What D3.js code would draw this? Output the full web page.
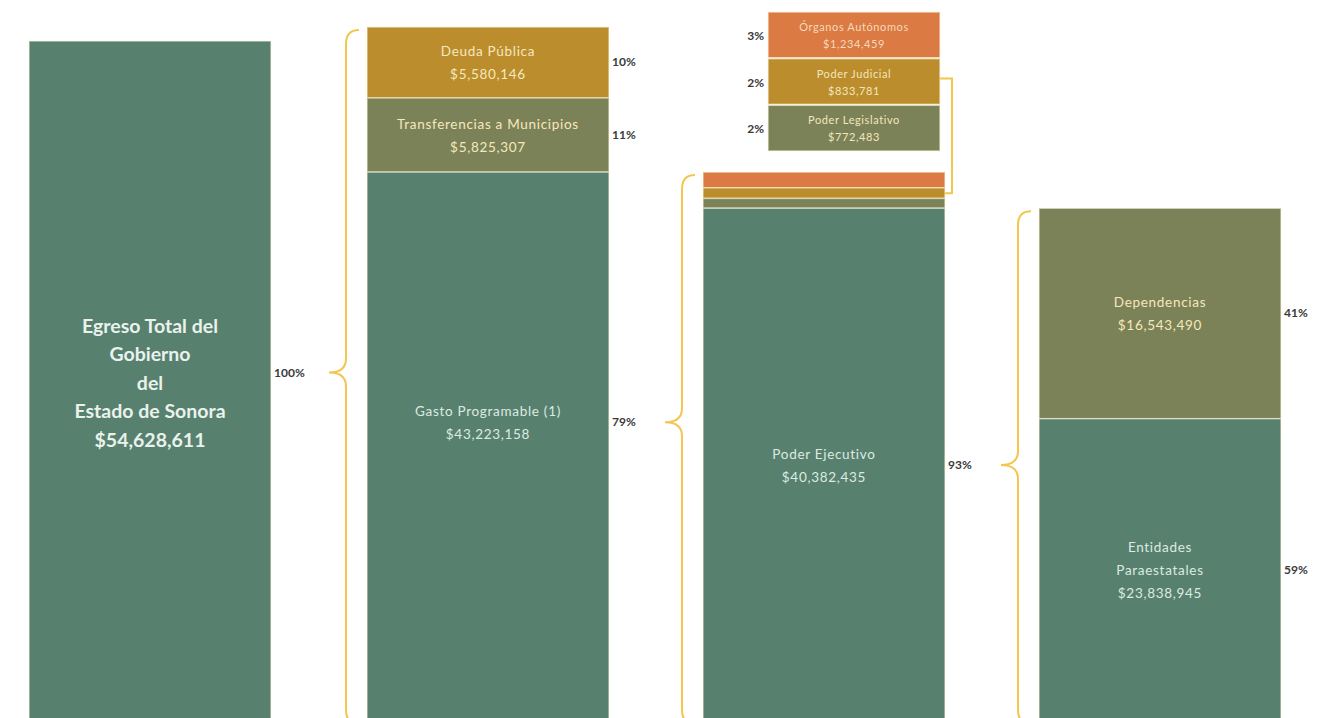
<!DOCTYPE html>
<html>
<head>
<meta charset="utf-8">
<script src="https://cdn.jsdelivr.net/npm/d3@7"></script>
<style>
  body { margin: 0; background: #fff; }
  svg { display: block; font-family: Lato, "Open Sans", sans-serif; }
</style>
</head>
<body>
<script>
// data (pesos)
const totalLabel = ["Egreso Total del", "Gobierno", "del", "Estado de Sonora", "$54,628,611"]
const totalValue = 54628611

const egresoNames = [["Deuda Pública"], ["Transferencias a Municipios"], ["Gasto Programable (1)"]]
const egresoValues = [5580146, 5825307, 43223158]
const egresoPct = ["10%", "11%", "79%"]

const gastoNames = [["Órganos Autónomos"], ["Poder Judicial"], ["Poder Legislativo"], ["Poder Ejecutivo"]]
const gastoValues = [1234459, 833781, 772483, 40382435]
const gastoPct = ["3%", "2%", "2%", "93%"]

const ejecutivoNames = [["Dependencias"], ["Entidades", "Paraestatales"]]
const ejecutivoValues = [16543490, 23838945]
const ejecutivoPct = ["41%", "59%"]

const columns = ["total", "egreso", "gasto", "ejecutivo"]

// colours
const teal = "#58806f", olive = "#7c8257", gold = "#bb8d2d", orange = "#db7a42", brace = "#f3c64f"
const egresoColors = [gold, olive, teal]
const gastoColors = [orange, gold, olive, teal]
const ejecutivoColors = [olive, teal]

const W = 1343, H = 718
const svg = d3.select("body").append("svg").attr("width", W).attr("height", H)

const x = d3.scaleBand().domain(columns).range([31, 1281]).paddingInner(94 / 336).paddingOuter(0)
const h = d3.scaleLinear().domain([0, totalValue]).range([0, 695])
const base = { total: 736, egreso: 722, gasto: 722, ejecutivo: 722 }

function fmt(v) { return "$" + d3.format(",")(v) }

// build stacked segments top -> bottom
function stack(col, names, values, colors, pct) {
  let sum = d3.sum(values)
  let top = base[col] - h(sum)
  return values.map((v, i) => {
    let seg = { col, name: names[i], value: v, color: colors[i], pct: pct[i], y0: top, y1: top + h(v) }
    top += h(v)
    return seg
  })
}

const segTotal = stack("total", [totalLabel], [totalValue], [teal], ["100%"])
const segEgreso = stack("egreso", egresoNames, egresoValues, egresoColors, egresoPct)
const segGasto = stack("gasto", gastoNames, gastoValues, gastoColors, gastoPct)
const segEjec = stack("ejecutivo", ejecutivoNames, ejecutivoValues, ejecutivoColors, ejecutivoPct)
const allSegs = segTotal.concat(segEgreso, segGasto, segEjec)

// bar 1 is drawn with a slightly wider band in the picture
function bx(d) { return d.col == "total" ? x(d.col) - 2 : x(d.col) }

svg.append("g").selectAll("rect")
  .data(allSegs)
  .join("rect")
  .attr("x", d => bx(d))
  .attr("y", d => d.y0)
  .attr("width", x.bandwidth())
  .attr("height", d => d.y1 - d.y0)
  .attr("fill", d => d.color)
  .attr("stroke", "rgba(255,250,225,0.55)")
  .attr("stroke-width", 1.5)

// labels inside bars (the thin gasto stripes get theirs in the inset)
const labelSegs = segEgreso.concat(segGasto.slice(3), segEjec)
labelSegs.forEach(d => {
  let lines = d.name.concat([fmt(d.value)])
  let cy = (d.y0 + d.y1) / 2
  if (d.name[0] == "Gasto Programable (1)") cy = d.y0 + (d.y1 - d.y0) * 0.455
  let fill = d.color == teal ? "#dcebe2" : "#f6e8bd"
  let t = svg.append("text")
    .attr("text-anchor", "middle")
    .attr("font-size", 13.5)
    .attr("letter-spacing", 0.7)
    .attr("fill", fill)
  lines.forEach((s, i) => {
    t.append("tspan")
      .attr("x", x(d.col) + x.bandwidth() / 2)
      .attr("y", cy + (i - (lines.length - 1) / 2) * 23 + 5)
      .text(s)
  })
  d.labelY = cy
})

// total bar label
{
  let d = segTotal[0]
  let cy = (d.y0 + d.y1) / 2 - 6
  let t = svg.append("text")
    .attr("text-anchor", "middle")
    .attr("font-size", 19.5)
    .attr("font-weight", "bold")
    .attr("fill", "#e9f2ec")
  totalLabel.forEach((s, i) => {
    t.append("tspan")
      .attr("x", bx(d) + x.bandwidth() / 2)
      .attr("y", cy + (i - 2) * 28.5 + 7)
      .text(s)
  })
  // its percentage sits at the tip of the first brace
  d.labelY = (segEgreso[0].y0 + base.egreso) / 2 - 2
}

// percentages to the right of the bars
const pctSegs = segTotal.concat(segEgreso, segGasto.slice(3), segEjec)
svg.append("g").selectAll("text")
  .data(pctSegs)
  .join("text")
  .attr("x", d => bx(d) + x.bandwidth() + 3)
  .attr("y", d => d.labelY + 4)
  .attr("font-size", 12)
  .attr("font-weight", "bold")
  .attr("fill", "#3a3a3a")
  .text(d => d.pct)

// inset with the three small gasto parts
const insetSegs = segGasto.slice(0, 3)
const iy = d3.scaleBand().domain(insetSegs.map(d => d.name[0])).range([12, 151]).paddingInner(0.02)
const ix = 768, iw = 172
const inset = svg.append("g")
inset.selectAll("rect")
  .data(insetSegs)
  .join("rect")
  .attr("x", ix)
  .attr("y", d => iy(d.name[0]))
  .attr("width", iw)
  .attr("height", iy.bandwidth())
  .attr("fill", d => d.color)
  .attr("stroke", "rgba(255,250,225,0.6)")
  .attr("stroke-width", 1.5)
insetSegs.forEach(d => {
  let cy = iy(d.name[0]) + iy.bandwidth() / 2
  let t = inset.append("text").attr("text-anchor", "middle").attr("font-size", 11)
    .attr("letter-spacing", 0.6)
    .attr("fill", d.color == orange ? "#f7d9bd" : "#f3e6bd")
  t.append("tspan").attr("x", ix + iw / 2).attr("y", cy - 4).text(d.name[0])
  t.append("tspan").attr("x", ix + iw / 2).attr("y", cy + 13).text(fmt(d.value))
  inset.append("text")
    .attr("x", ix - 4).attr("y", cy + 5)
    .attr("text-anchor", "end")
    .attr("font-size", 12).attr("font-weight", "bold").attr("fill", "#3a3a3a")
    .text(d.pct)
})

// connector from inset to the thin stripes
{
  let yFrom = iy(insetSegs[1].name[0]) + iy.bandwidth() / 2 - 3
  let yTo = (insetSegs[0].y0 + insetSegs[2].y1) / 2 + 3
  let xr = x("gasto") + x.bandwidth()
  svg.append("path")
    .attr("d", `M${ix + iw},${yFrom} H${xr + 7} V${yTo} H${xr}`)
    .attr("fill", "none").attr("stroke", brace).attr("stroke-width", 2)
}

// curly braces
function bracePath(xTip, xLine, xEnd, yTop, yMid, yBot) {
  let r = 14
  return `M${xEnd},${yTop} Q${xLine},${yTop} ${xLine},${yTop + r} ` +
    `L${xLine},${yMid - r} Q${xLine},${yMid} ${xTip},${yMid} ` +
    `Q${xLine},${yMid} ${xLine},${yMid + r} ` +
    `L${xLine},${yBot - r} Q${xLine},${yBot} ${xEnd},${yBot}`
}
const braces = [
  { col: "egreso", top: segEgreso[0].y0, mid: segTotal[0].labelY },
  { col: "gasto", top: segGasto[0].y0, mid: segEgreso[2].labelY },
  { col: "ejecutivo", top: segEjec[0].y0, mid: segGasto[3].labelY }
]
svg.append("g").selectAll("path")
  .data(braces)
  .join("path")
  .attr("d", d => {
    let xb = x(d.col)
    return bracePath(xb - 38, xb - 21, xb - 8, d.top + 3, d.mid, base[d.col] + 2)
  })
  .attr("fill", "none")
  .attr("stroke", brace)
  .attr("stroke-width", 2)
</script>
</body>
</html>
